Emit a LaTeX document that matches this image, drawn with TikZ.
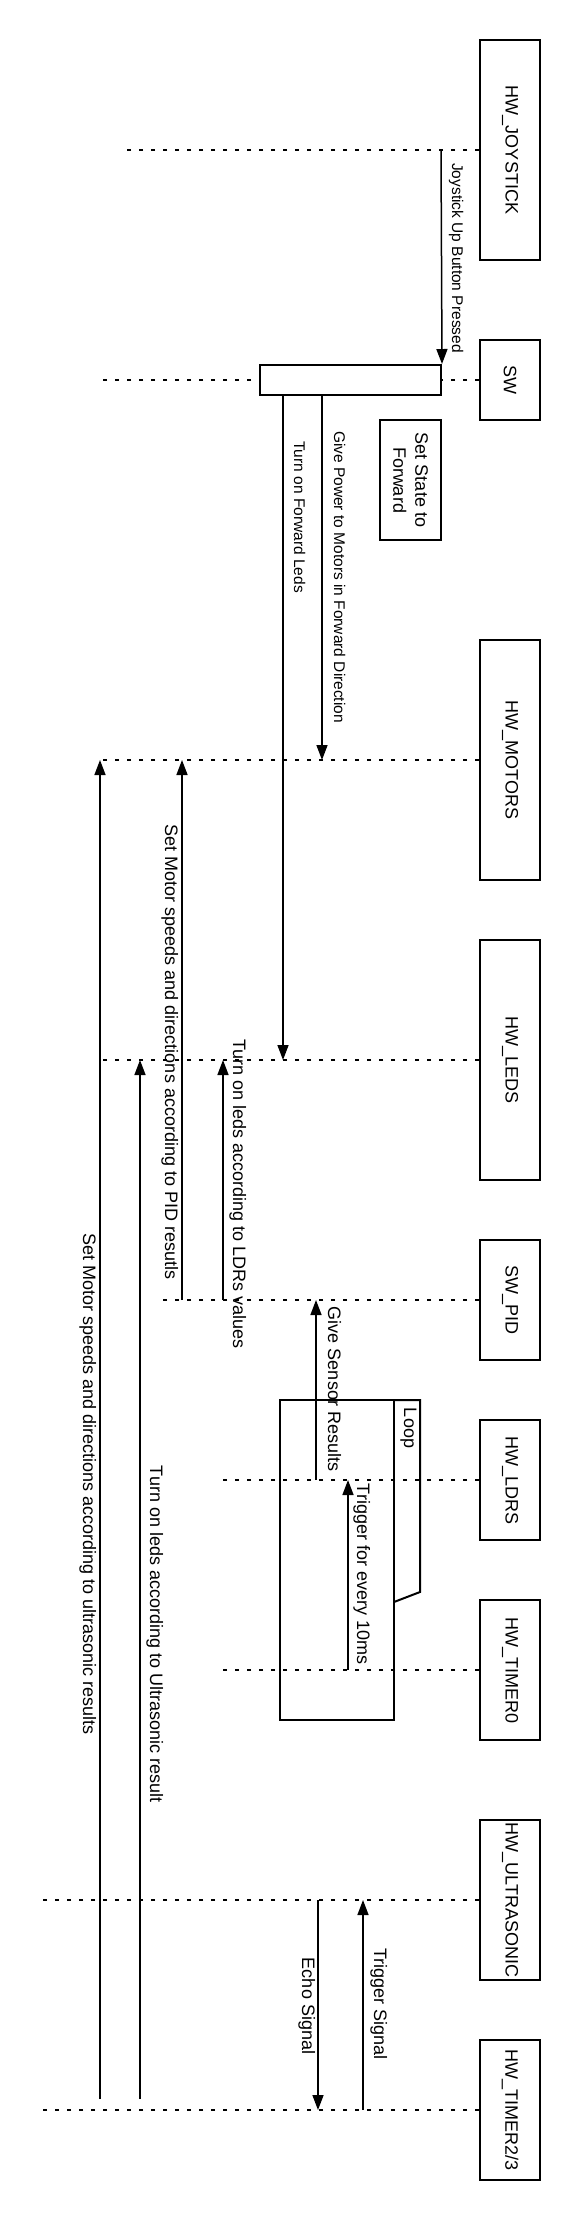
\documentclass[tikz,border=0pt]{standalone}
\usepackage{fontspec}
\setmainfont{Liberation Sans}
\usetikzlibrary{arrows.meta}
\tikzstyle{lifebox}=[draw,rotate=-90,line width=2pt,minimum height=60pt,inner sep=0pt,font=\fontsize{18}{22}\selectfont]
\tikzstyle{lifeline}=[line width=2pt,dash pattern=on 4pt off 8pt]
\tikzstyle{msg}=[line width=1.5pt,-{Triangle[length=15pt,width=11pt]}]
\tikzstyle{msglabel}=[rotate=-90,anchor=base,inner sep=0pt,font=\fontsize{18}{22}\selectfont]
\tikzstyle{msglabelsmall}=[msglabel,font=\fontsize{15.5}{19}\selectfont]

\begin{document}
\begin{tikzpicture}[x=1pt,y=-1pt]
    \useasboundingbox (0,0) rectangle (580,2220);
    \node[lifebox,minimum width=220pt] (joy)   at (510,150)  {HW\_JOYSTICK};
    \node[lifebox,minimum width=80pt]  (sw)    at (510,380)  {SW};
    \node[lifebox,minimum width=240pt] (mot)   at (510,760)  {HW\_MOTORS};
    \node[lifebox,minimum width=240pt] (leds)  at (510,1060) {HW\_LEDS};
    \node[lifebox,minimum width=120pt] (pid)   at (510,1300) {SW\_PID};
    \node[lifebox,minimum width=120pt] (ldrs)  at (510,1480) {HW\_LDRS};
    \node[lifebox,minimum width=140pt] (tim0)  at (510,1670) {HW\_TIMER0};
    \node[lifebox,minimum width=160pt] (ultra) at (510,1900) {HW\_ULTRASONIC};
    \node[lifebox,minimum width=140pt] (tim23) at (510,2110) {HW\_TIMER2/3};

    \coordinate (joyL)   at (120,150);
    \coordinate (swL)    at (100,380);
    \coordinate (motL)   at (100,760);
    \coordinate (ledsL)  at (100,1060);
    \coordinate (pidL)   at (160,1300);
    \coordinate (ldrsL)  at (220,1480);
    \coordinate (tim0L)  at (220,1670);
    \coordinate (ultraL) at (40,1900);
    \coordinate (tim23L) at (40,2110);
    \foreach \from/\to in {joy/joyL,sw/swL,mot/motL,leds/ledsL,pid/pidL,ldrs/ldrsL,tim0/tim0L,ultra/ultraL,tim23/tim23L}
    \draw[lifeline] (\from) -- (\to);

    % activation of SW and its note
    \node[draw,fill=white,line width=2pt,minimum width=181pt,minimum height=30pt,inner sep=0pt] (act) at (350.5,380) {};
    \node[lifebox,minimum width=120pt,minimum height=61pt,align=center] (state) at (410.5,480) {Set State to\\Forward};

    % loop frame
    \draw[line width=2pt] (280,1400) rectangle (394,1720);
    \draw[line width=2pt] (394,1400) -- (420,1400) -- (420,1592) -- (394,1602);
    \node[msglabel] (loop) at (404,1428) {Loop};

    \coordinate (m1a) at (441,150);
    \coordinate (m2b) at (322,760);
    \coordinate (m2a) at (act.south -| m2b);
    \coordinate (m3b) at (283,1060);
    \coordinate (m3a) at (act.south -| m3b);
    \coordinate (m4a) at (182,1300);
    \coordinate (m4b) at (182,760);
    \coordinate (m5a) at (223,1300);
    \coordinate (m5b) at (223,1060);
    \coordinate (m6a) at (316,1480);
    \coordinate (m6b) at (316,1300);
    \coordinate (m7a) at (348,1670);
    \coordinate (m7b) at (348,1480);
    \coordinate (m8a) at (100,2099);
    \coordinate (m8b) at (100,760);
    \coordinate (m9a) at (140,2099);
    \coordinate (m9b) at (140,1060);
    \coordinate (m10a) at (363,2110);
    \coordinate (m10b) at (363,1900);
    \coordinate (m11a) at (318,1900);
    \coordinate (m11b) at (318,2110);
    \foreach \from/\to in {m1a/act.north east,m2a/m2b,m3a/m3b,m4a/m4b,m5a/m5b,m6a/m6b,m7a/m7b,m8a/m8b,m9a/m9b,m10a/m10b,m11a/m11b}
    \draw[msg] (\from) -- (\to);

    \node[msglabelsmall] (l1) at (452,258) {Joystick Up Button Pressed};
    \node[msglabelsmall] (l2) at (334,577) {Give Power to Motors in Forward Direction};
    \node[msglabelsmall] (l3) at (294,517) {Turn on Forward Leds};
    \node[msglabel] (l4)  at (165,1052) {Set Motor speeds and directions according to PID resutls};
    \node[msglabel] (l5)  at (233,1194) {Turn on leds according to LDRs values};
    \node[msglabel] (l6)  at (328,1389) {Give Sensor Results};
    \node[msglabel] (l7)  at (357,1574) {Trigger for every 10ms};
    \node[msglabel] (l8)  at (83,1484)  {Set Motor speeds and directions according to ultrasonic results};
    \node[msglabel] (l9)  at (150,1634) {Turn on leds according to Ultrasonic result};
    \node[msglabel] (l10) at (374,2004) {Trigger Signal};
    \node[msglabel] (l11) at (302,2006) {Echo Signal};
\end{tikzpicture}
\end{document}
